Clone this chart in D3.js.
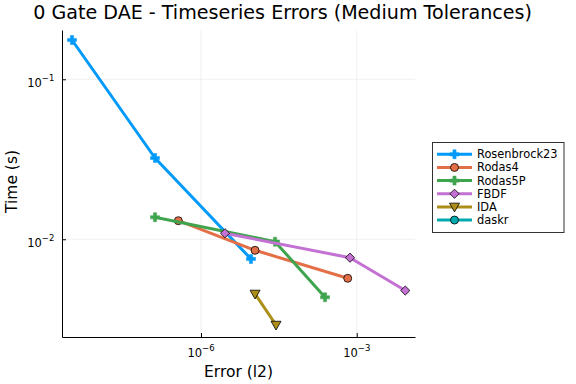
<!DOCTYPE html>
<html><head><meta charset="utf-8">
<script src="https://cdn.jsdelivr.net/npm/d3@7"></script>
<style>body{margin:0;background:#fff}svg{display:block}text{font-family:"DejaVu Sans",sans-serif;fill:#000}</style>
</head><body>
<svg id="c" width="576" height="384"></svg>
<script>
const titleText = "0 Gate DAE - Timeseries Errors (Medium Tolerances)";
const xLabel = "Error (l2)";
const yLabel = "Time (s)";
const seriesNames = ["Rosenbrock23", "Rodas4", "Rodas5P", "FBDF", "IDA", "daskr"];
const seriesColors = ["#009AFA", "#E36F47", "#3EA44E", "#C371D2", "#AC8E18", "#00AAAE"];
const seriesMarkers = ["cross", "circle", "cross", "diamond", "dtriangle", "circle"];
const rosenbrockErr = [3.27e-9, 1.30e-7, 9.18e-6];
const rosenbrockTime = [0.176, 0.0322, 0.00753];
const rodas4Err = [3.66e-7, 1.10e-5, 6.71e-4];
const rodas4Time = [0.01306, 0.00853, 0.0057];
const rodas5PErr = [1.30e-7, 2.67e-5, 2.45e-4];
const rodas5PTime = [0.01373, 0.00966, 0.00434];
const fbdfErr = [2.90e-6, 7.43e-4, 8.63e-3];
const fbdfTime = [0.0109, 0.00767, 0.00478];
const idaErr = [1.10e-5, 2.79e-5];
const idaTime = [0.00455, 0.00291];
const daskrErr = [];
const daskrTime = [];
const xTickExps = [-6, -3];
const yTickExps = [-2, -1];

const errs = [rosenbrockErr, rodas4Err, rodas5PErr, fbdfErr, idaErr, daskrErr];
const times = [rosenbrockTime, rodas4Time, rodas5PTime, fbdfTime, idaTime, daskrTime];
const series = seriesNames.map((n, i) => ({
  name: n, color: seriesColors[i], marker: seriesMarkers[i],
  pts: errs[i].map((e, j) => [e, times[i][j]])
}));

const L = 62, R = 415, T = 30, B = 337;
const x = d3.scaleLog().domain([Math.pow(10, -8.678), Math.pow(10, -1.877)]).range([L, R]);
const y = d3.scaleLog().domain([Math.pow(10, -2.611), Math.pow(10, -0.692)]).range([B, T]);
const svg = d3.select("#c");

// grid
const g = svg.append("g");
g.selectAll(".gx").data(xTickExps).join("line")
  .attr("x1", d => x(Math.pow(10, d))).attr("x2", d => x(Math.pow(10, d)))
  .attr("y1", T).attr("y2", B).attr("stroke", "#000").attr("stroke-opacity", 0.1).attr("stroke-width", 0.6);
g.selectAll(".gy").data(yTickExps).join("line")
  .attr("y1", d => y(Math.pow(10, d))).attr("y2", d => y(Math.pow(10, d)))
  .attr("x1", L).attr("x2", R).attr("stroke", "#000").attr("stroke-opacity", 0.1).attr("stroke-width", 0.6);

// axes
const xAxis = d3.axisBottom(x).tickValues(xTickExps.map(e => Math.pow(10, e))).tickSizeInner(-4).tickSizeOuter(0).tickFormat("");
const yAxis = d3.axisLeft(y).tickValues(yTickExps.map(e => Math.pow(10, e))).tickSizeInner(-4).tickSizeOuter(0).tickFormat("");
const gx = svg.append("g").attr("transform", `translate(0,${B})`).call(xAxis);
const gy = svg.append("g").attr("transform", `translate(${L},0)`).call(yAxis);
[gx, gy].forEach(a => { a.select(".domain").attr("stroke", "#000").attr("stroke-width", 1); a.selectAll(".tick line").attr("stroke", "#000"); });

function powLabel(sel, e) {
  sel.append("tspan").text("10");
  sel.append("tspan").attr("dy", -6).attr("font-size", 8.5).text("\u2212" + Math.abs(e));
}
xTickExps.forEach(e => {
  const t = svg.append("text").attr("x", x(Math.pow(10, e))).attr("y", 356.7).attr("text-anchor", "middle").attr("font-size", 11.5);
  powLabel(t, e);
});
yTickExps.forEach(e => {
  const t = svg.append("text").attr("x", 54.3).attr("y", y(Math.pow(10, e)) + 7.3).attr("text-anchor", "end").attr("font-size", 11.5);
  powLabel(t, e);
});

// labels
svg.append("text").attr("x", (L + R) / 2).attr("y", 377).attr("text-anchor", "middle").attr("font-size", 15.5).text(xLabel);
svg.append("text").attr("transform", `translate(17,${(T + B) / 2 - 2}) rotate(-90)`).attr("text-anchor", "middle").attr("font-size", 15.5).text(yLabel);
svg.append("text").attr("x", 532).attr("y", 18.7).attr("text-anchor", "end").attr("font-size", 19.1).text(titleText);

// markers
function drawMarker(sel, type, color, cx, cy) {
  if (type === "cross") {
    const s = 4.5, w = 1.6;
    sel.append("path").attr("d", `M${cx - s},${cy - w}H${cx - w}V${cy - s}H${cx + w}V${cy - w}H${cx + s}V${cy + w}H${cx + w}V${cy + s}H${cx - w}V${cy + w}H${cx - s}Z`)
      .attr("fill", color).attr("stroke", color).attr("stroke-width", 0.5);
  } else if (type === "circle") {
    sel.append("circle").attr("cx", cx).attr("cy", cy).attr("r", 4).attr("fill", color).attr("stroke", "#000").attr("stroke-width", 0.8);
  } else if (type === "diamond") {
    const s = 4.6;
    sel.append("path").attr("d", `M${cx},${cy - s}L${cx + s},${cy}L${cx},${cy + s}L${cx - s},${cy}Z`).attr("fill", color).attr("stroke", "#000").attr("stroke-width", 0.8);
  } else if (type === "dtriangle") {
    const s = 5;
    sel.append("path").attr("d", `M${cx - s},${cy - s * 0.75}L${cx + s},${cy - s * 0.75}L${cx},${cy + s}Z`).attr("fill", color).attr("stroke", "#000").attr("stroke-width", 0.8);
  }
}

const line = d3.line().x(d => x(d[0])).y(d => y(d[1]));
const plotG = svg.append("g");
series.forEach(s => {
  if (!s.pts.length) return;
  plotG.append("path").attr("d", line(s.pts)).attr("fill", "none").attr("stroke", s.color).attr("stroke-width", 3).attr("stroke-linejoin", "round");
  s.pts.forEach(p => drawMarker(plotG, s.marker, s.color, x(p[0]), y(p[1])));
});

// legend
const lg = svg.append("g");
lg.append("rect").attr("x", 432.5).attr("y", 142.5).attr("width", 131.5).attr("height", 90).attr("fill", "#fff").attr("stroke", "#333").attr("stroke-width", 1);
series.forEach((s, i) => {
  const cy = 154.3 + i * 13.15;
  lg.append("line").attr("x1", 437).attr("x2", 472).attr("y1", cy).attr("y2", cy).attr("stroke", s.color).attr("stroke-width", 3);
  drawMarker(lg, s.marker, s.color, 454.5, cy);
  lg.append("text").attr("x", 477).attr("y", cy + 4).attr("font-size", 11.4).text(s.name);
});
</script>
</body></html>
